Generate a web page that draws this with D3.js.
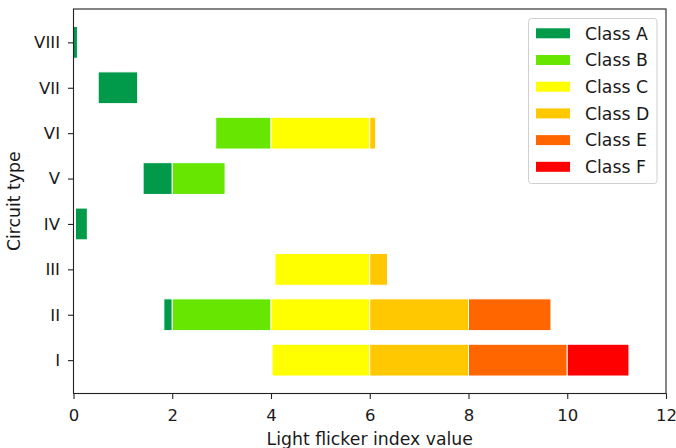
<!DOCTYPE html>
<html><head><meta charset="utf-8">
<script src="https://cdn.jsdelivr.net/npm/d3@7"></script>
<style>body{margin:0;background:#fff}svg{display:block}text{font-family:"DejaVu Sans",sans-serif;fill:#1a1a1a}</style>
</head><body><svg id="c" width="676" height="448"></svg>
<script>
const circuits = ["I","II","III","IV","V","VI","VII","VIII"];
const classes = ["Class A","Class B","Class C","Class D","Class E","Class F"];
const colors = ["#009a4a","#66e600","#ffff00","#ffc800","#ff6600","#ff0000"];
// segments: [circuit, class index, start, end]
const segCircuit = ["VIII","VII","VI","VI","VI","V","V","IV","III","III","II","II","II","II","II","I","I","I","I"];
const segClass   = [0,0,1,2,3,0,1,0,2,3,0,1,2,3,4,2,3,4,5];
const segStart   = [0,0.5,2.88,4,6,1.41,2,0.04,4.08,6,1.83,2,4,6,8,4.02,6,8,10];
const segEnd     = [0.08,1.3,4,6,6.12,2,3.07,0.28,6,6.36,2,4,6,8,9.67,6,8,10,11.25];
const xTicks = [0,2,4,6,8,10,12];

const svg = d3.select("#c");
const L = 73.5, R = 666, T = 9, B = 393.5;
const barH = 0.7;
const x = d3.scaleLinear().domain([0,12]).range([L,R]);
const yIdx = d3.scaleLinear().domain([-barH/2-0.05*(7+barH), 7+barH/2+0.05*(7+barH)]).range([B,T]);
const y = c => yIdx(circuits.indexOf(c));

const segs = segCircuit.map((c,i)=>({c, k:segClass[i], s:segStart[i], e:segEnd[i]}));
svg.append("g").selectAll("rect").data(segs).join("rect")
  .attr("x", d=>x(d.s)).attr("width", d=>x(d.e)-x(d.s))
  .attr("y", d=>y(d.c) - (yIdx(0)-yIdx(barH))/2)
  .attr("height", yIdx(0)-yIdx(barH))
  .attr("fill", d=>colors[d.k]).attr("stroke","#fff").attr("stroke-width",1);

const fs = 16.5, lfs = 17.3;
const xa = svg.append("g").attr("transform",`translate(0,${B})`)
  .call(d3.axisBottom(x).tickValues(xTicks).tickFormat(d3.format("d")).tickSize(5.5).tickPadding(10.5));
const ya = svg.append("g").attr("transform",`translate(${L},0)`)
  .call(d3.axisLeft(d3.scalePoint().domain(circuits).range([yIdx(0),yIdx(7)])).tickSize(5.5).tickPadding(8));
[xa,ya].forEach(a=>{a.select(".domain").remove();a.selectAll("line").attr("stroke","#222").attr("stroke-width",1.1);
  a.selectAll("text").attr("font-size",fs).attr("fill","#1a1a1a").style("font-family","DejaVu Sans");});
svg.append("rect").attr("x",L).attr("y",T).attr("width",R-L).attr("height",B-T)
  .attr("fill","none").attr("stroke","#222").attr("stroke-width",1.1);

svg.append("text").attr("x",(L+R)/2).attr("y",445).attr("text-anchor","middle").attr("font-size",lfs).text("Light flicker index value");
svg.append("text").attr("transform",`translate(20,${(T+B)/2}) rotate(-90)`).attr("text-anchor","middle").attr("font-size",lfs).text("Circuit type");

const lg = svg.append("g");
lg.append("rect").attr("x",528.5).attr("y",18.5).attr("width",128.5).attr("height",165).attr("rx",3)
  .attr("fill","#fff").attr("fill-opacity",0.8).attr("stroke","#d0d0d0");
const items = lg.selectAll("g").data(classes).join("g").attr("transform",(d,i)=>`translate(0,${33.3+i*26.7})`);
items.append("rect").attr("x",536).attr("y",-5).attr("width",34).attr("height",10).attr("fill",(d,i)=>colors[i]);
items.append("text").attr("x",585).attr("y",0).attr("dy","0.36em").attr("font-size",lfs).text(d=>d);
</script></body></html>
